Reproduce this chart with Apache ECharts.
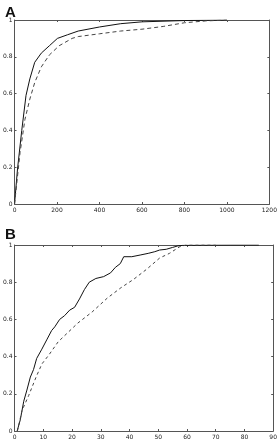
<!DOCTYPE html>
<html>
<head>
<meta charset="utf-8">
<script src="https://cdn.jsdelivr.net/npm/echarts@6/dist/echarts.min.js"></script>
<style>
html, body { margin: 0; padding: 0; background: #fff; }
#chart { width: 280px; height: 440px; }
</style>
</head>
<body>
<div id="chart"></div>
<script>
// panel A: x 0-1200
var aSolidX = [0, 14, 34, 54, 72, 95, 126, 164, 202, 250, 300, 400, 500, 600, 800, 1000];
var aSolidY = [0, 0.19, 0.40, 0.59, 0.68, 0.77, 0.82, 0.86, 0.90, 0.92, 0.94, 0.962, 0.98, 0.99, 0.997, 1.0];
var aDashX = [0, 26, 49, 72, 95, 126, 164, 210, 271, 300, 400, 500, 600, 700, 800, 900, 1000];
var aDashY = [0, 0.28, 0.46, 0.57, 0.66, 0.745, 0.81, 0.86, 0.90, 0.91, 0.925, 0.94, 0.95, 0.965, 0.985, 0.995, 1.0];

// panel B: x 0-90
var bSolidX = [0.9, 2, 3.2, 4.3, 5.5, 6.6, 7.7, 9.5, 11.2, 12.9, 14, 15.7, 17.4, 19.2, 20.9, 22.6, 24.3, 26, 28.3, 31, 33.4, 35.1, 36.8, 38, 40.8, 43.7, 46.5, 48.8, 50.5, 52.8, 55, 56.8, 58.5, 65, 75, 85];
var bSolidY = [0, 0.06, 0.16, 0.22, 0.29, 0.33, 0.39, 0.44, 0.49, 0.54, 0.56, 0.60, 0.62, 0.65, 0.665, 0.71, 0.76, 0.80, 0.82, 0.83, 0.85, 0.88, 0.90, 0.937, 0.937, 0.946, 0.955, 0.964, 0.973, 0.977, 0.987, 0.995, 0.998, 0.999, 1.0, 1.0];
var bDashX = [1, 2.6, 4.9, 7.5, 9.5, 12, 15.2, 18.6, 22, 27, 32.3, 37, 41.4, 46, 50.5, 53.9, 57.4, 59.6, 70];
var bDashY = [0, 0.11, 0.19, 0.29, 0.36, 0.41, 0.48, 0.53, 0.58, 0.64, 0.715, 0.77, 0.815, 0.87, 0.93, 0.955, 0.99, 1.0, 1.0];

function pairs(xs, ys) {
    var out = [];
    for (var i = 0; i < xs.length; i++) out.push([xs[i], ys[i]]);
    return out;
}

var lineCol = '#555';
var labelStyle = { fontSize: 6, color: '#222', fontFamily: 'DejaVu Sans', margin: 3 };

function xAx(grid, max, interval, pos, show) {
    return {
        type: 'value', gridIndex: grid, min: 0, max: max, interval: interval, position: pos,
        axisLine: { show: true, onZero: false, lineStyle: { color: lineCol, width: 1 } },
        axisTick: { show: true, inside: true, length: 2, lineStyle: { color: lineCol } },
        axisLabel: Object.assign({ show: show, showMaxLabel: true, showMinLabel: true,
            formatter: function (v) { return String(v); } }, labelStyle),
        splitLine: { show: false }
    };
}
function yAx(grid, pos, show) {
    return {
        type: 'value', gridIndex: grid, min: 0, max: 1, interval: 0.2, position: pos,
        axisLine: { show: true, onZero: false, lineStyle: { color: lineCol, width: 1 } },
        axisTick: { show: true, inside: true, length: 2, lineStyle: { color: lineCol } },
        axisLabel: Object.assign({ show: show }, labelStyle, { margin: 2 }),
        splitLine: { show: false }
    };
}

var myChart = echarts.init(document.getElementById('chart'), null, { renderer: 'canvas' });
var titleStyle = { fontSize: 15, fontWeight: 'bold', color: '#111', fontFamily: 'Liberation Sans' };
var option = {
    backgroundColor: '#fff',
    animation: false,
    title: [
        { text: 'A', left: 0, top: 0, textStyle: titleStyle },
        { text: 'B', left: 0, top: 222, textStyle: titleStyle }
    ],
    grid: [
        { left: 12, right: 7, top: 20, bottom: 236 },
        { left: 12, right: 5, top: 245, bottom: 9 }
    ],
    xAxis: [
        xAx(0, 1200, 200, 'bottom', true),
        xAx(0, 1200, 200, 'top', false),
        xAx(1, 90, 10, 'bottom', true),
        xAx(1, 90, 10, 'top', false)
    ],
    yAxis: [
        yAx(0, 'left', true),
        yAx(0, 'right', false),
        yAx(1, 'left', true),
        yAx(1, 'right', false)
    ],
    series: [
        { type: 'line', xAxisIndex: 0, yAxisIndex: 0, data: pairs(aSolidX, aSolidY), showSymbol: false,
          lineStyle: { color: '#111', width: 1 } },
        { type: 'line', xAxisIndex: 0, yAxisIndex: 0, data: pairs(aDashX, aDashY), showSymbol: false,
          lineStyle: { color: '#444', width: 1, type: [4, 3] } },
        { type: 'line', xAxisIndex: 2, yAxisIndex: 2, data: pairs(bSolidX, bSolidY), showSymbol: false,
          lineStyle: { color: '#111', width: 1 } },
        { type: 'line', xAxisIndex: 2, yAxisIndex: 2, data: pairs(bDashX, bDashY), showSymbol: false,
          lineStyle: { color: '#444', width: 1, type: [3, 3] } }
    ]
};
myChart.setOption(option);
</script>
</body>
</html>
